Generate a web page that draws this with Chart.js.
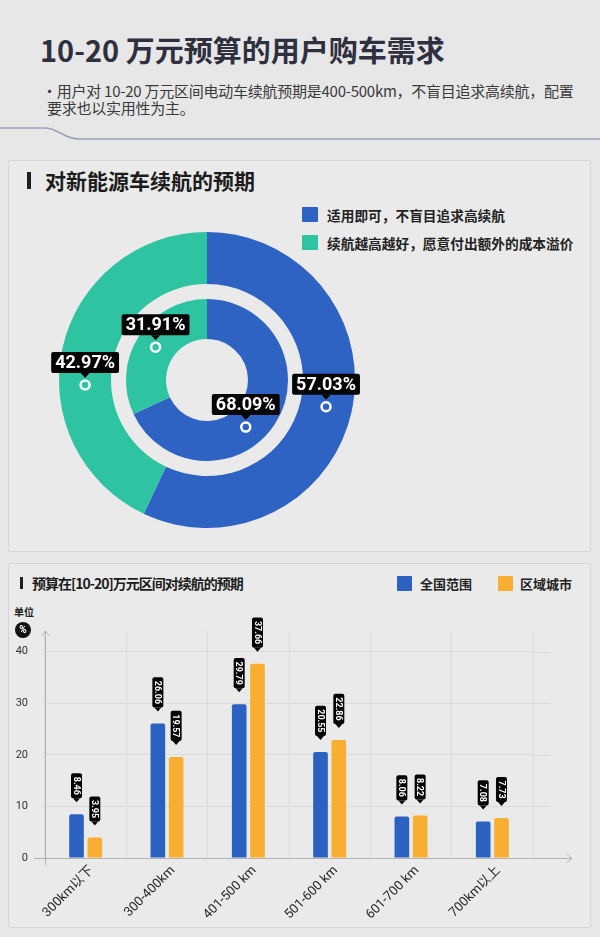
<!DOCTYPE html>
<html lang="zh">
<head>
<meta charset="utf-8">
<title>10-20 万元预算的用户购车需求</title>
<script src="https://cdn.jsdelivr.net/npm/chart.js@4.4.1/dist/chart.umd.min.js"></script>
<style>
  html, body { margin: 0; padding: 0; }
  body {
    width: 600px; height: 937px; position: relative; overflow: hidden;
    background: #e7e7e7;
    font-family: "Noto Sans CJK SC", "Noto Sans", sans-serif;
    color: #222;
  }
  .abs { position: absolute; white-space: nowrap; }
  .title { left: 40px; top: 29px; font-size: 29px; line-height: 40px; font-weight: 700; color: #2e3040; }
  .sub { left: 42px; top: 82px; font-size: 15px; line-height: 17px; color: #3a3a3a; letter-spacing: -0.25px; }
  .sub .l2 { padding-left: 5px; }
  .panel { position: absolute; left: 8px; width: 583px; box-sizing: border-box;
           border: 1px solid #d5d5d5; background: #eaeaea; border-radius: 2px; }
  .bar { position: absolute; background: #1e1e1e; }
  .ptitle { font-weight: 700; color: #1c1c1c; }
  .sq { position: absolute; border-radius: 1px; }
  .lg { font-weight: 700; color: #222; }
  canvas { position: absolute; }
</style>
</head>
<body>

<div class="abs title">10-20 万元预算的用户购车需求</div>
<div class="abs sub">·用户对 10-20 万元区间电动车续航预期是400-500km，不盲目追求高续航，配置<br><span class="l2">要求也以实用性为主。</span></div>
<svg class="abs" style="left:0;top:120px" width="600" height="30">
  <path d="M0 8 L44 8 C60 8 62 19 80 19 L600 19" fill="none" stroke="#9ea3b9" stroke-width="1.5"/>
</svg>

<!-- 面板 1 -->
<div class="panel" style="top:160px;height:392px"></div>
<div class="bar" style="left:27px;top:172px;width:3.5px;height:17px"></div>
<div class="abs ptitle" style="left:45px;top:166px;font-size:21px;line-height:28px">对新能源车续航的预期</div>
<div id="legend1"></div>
<canvas id="ringChart" width="400" height="400" style="left:7px;top:180px;width:400px;height:400px"></canvas>

<!-- 面板 2 -->
<div class="panel" style="top:563px;height:365px"></div>
<div class="bar" style="left:20px;top:577px;width:3px;height:12px"></div>
<div class="abs ptitle" style="left:32px;top:573px;font-size:14px;line-height:20px;letter-spacing:-1px">预算在[10-20]万元区间对续航的预期</div>
<div id="legend2"></div>
<div class="abs" style="left:14px;top:604px;font-size:10px;line-height:16px;font-weight:700;color:#222">单位</div>
<div class="abs" style="left:15px;top:622px;width:16px;height:16px;border-radius:8px;background:#111;color:#fff;font:700 10px/16px Roboto,sans-serif;text-align:center">%</div>
<canvas id="rangeChart" width="600" height="365" style="left:0;top:563px;width:600px;height:365px"></canvas>

<script>
// 续航预期（环形图）
var ringLabels = ['适用即可，不盲目追求高续航', '续航越高越好，愿意付出额外的成本溢价'];
var outerRing = [57.03, 42.97];
var innerRing = [68.09, 31.91];

// 预算在[10-20]万元区间对续航的预期（柱状图）
var rangeLabels = ['300km以下', '300-400km', '401-500 km', '501-600 km', '601-700 km', '700km以上'];
var seriesNames = ['全国范围', '区域城市'];
var nationwide = [8.46, 26.06, 29.79, 20.55, 8.06, 7.08];
var regional = [3.95, 19.57, 37.66, 22.86, 8.22, 7.73];
var yTicks = [0, 10, 20, 30, 40];

var RING_BLUE = '#2e63c3';
var RING_TEAL = '#2ec4a1';
var BAR_BLUE = '#2b62c1';
var BAR_ORANGE = '#f7ae31';

Chart.defaults.font.family = 'Roboto, "Noto Sans CJK SC", sans-serif';

// 图例（html）
function addLegend(box, names, colors, items) {
    var el = document.getElementById(box);
    names.forEach(function (n, i) {
        var it = items[i];
        el.insertAdjacentHTML('beforeend',
            '<div class="sq" style="left:' + it.x + 'px;top:' + it.y + 'px;width:' + it.w + 'px;height:' + it.h + 'px;background:' + colors[i] + '"></div>' +
            '<div class="abs lg" style="left:' + it.tx + 'px;top:' + (it.y + it.h / 2 - 10) + 'px;font-size:' + it.fs + 'px;line-height:20px">' + n + '</div>');
    });
}
addLegend('legend1', ringLabels, [RING_BLUE, RING_TEAL], [
    { x: 302, y: 207, w: 16, h: 15, tx: 327, fs: 13.7 },
    { x: 302, y: 235, w: 16, h: 15, tx: 327, fs: 13.7 }
]);
addLegend('legend2', seriesNames, [BAR_BLUE, BAR_ORANGE], [
    { x: 397, y: 576, w: 15, h: 15, tx: 420, fs: 13 },
    { x: 498, y: 576, w: 15, h: 15, tx: 520, fs: 13 }
]);

// 环形图上的黑色标签 + 白色圆圈
var ringTags = {
    id: 'ringTags',
    afterDatasetsDraw: function (chart, args, opts) {
        var ctx = chart.ctx;
        ctx.save();
        chart.data.datasets.forEach(function (ds, di) {
            if (ds.spacer) return;
            var meta = chart.getDatasetMeta(di);
            var shifts = opts.shift[di] || [];
            meta.data.forEach(function (arc, i) {
                var p = arc.getProps(['x', 'y', 'startAngle', 'endAngle', 'innerRadius', 'outerRadius'], true);
                var a = (p.startAngle + p.endAngle) / 2 + (shifts[i] || 0) * Math.PI / 180;
                var r = (p.innerRadius + p.outerRadius) / 2;
                var px = p.x + r * Math.cos(a);
                var py = p.y + r * Math.sin(a);
                // 圆圈
                ctx.beginPath();
                ctx.arc(px, py, 4.5, 0, Math.PI * 2);
                ctx.lineWidth = 2.5;
                ctx.strokeStyle = '#ffffff';
                ctx.stroke();
                // 标签
                var txt = ds.data[i].toFixed(2) + '%';
                ctx.font = 'bold 18px Roboto';
                var w = ctx.measureText(txt).width + 8;
                var h = 21;
                var yb = py - 12;
                ctx.fillStyle = '#050505';
                ctx.beginPath();
                ctx.roundRect(px - w / 2, yb - h, w, h, 2);
                ctx.fill();
                ctx.beginPath();
                ctx.moveTo(px - 4.5, yb);
                ctx.lineTo(px + 4.5, yb);
                ctx.lineTo(px, yb + 5);
                ctx.closePath();
                ctx.fill();
                ctx.fillStyle = '#ffffff';
                ctx.textAlign = 'center';
                ctx.textBaseline = 'middle';
                ctx.fillText(txt, px, yb - h / 2 + 1);
            });
        });
        ctx.restore();
    }
};

new Chart(document.getElementById('ringChart'), {
    type: 'doughnut',
    data: {
        labels: ringLabels,
        datasets: [
            { data: outerRing, backgroundColor: [RING_BLUE, RING_TEAL], borderWidth: 0, weight: 52 },
            { data: [1], backgroundColor: 'rgba(0,0,0,0)', borderWidth: 0, weight: 15, spacer: true },
            { data: innerRing, backgroundColor: [RING_BLUE, RING_TEAL], borderWidth: 0, weight: 40 }
        ]
    },
    options: {
        responsive: false,
        animation: false,
        events: [],
        layout: { padding: 52 },
        radius: '100%',
        cutout: 41,
        plugins: {
            legend: { display: false },
            tooltip: { enabled: false },
            ringTags: { shift: { 0: [0, -15], 2: [18, 0] } }
        }
    },
    plugins: [ringTags]
});

// 柱状图：坐标轴箭头、延长的网格线、竖排数值标签
var barDecor = {
    id: 'barDecor',
    afterDatasetsDraw: function (chart) {
        var ctx = chart.ctx;
        var area = chart.chartArea;
        var ys = chart.scales.y;
        ctx.save();
        // 网格线延长
        ctx.strokeStyle = '#dadada';
        ctx.lineWidth = 1;
        yTicks.forEach(function (t) {
            if (t === 0) return;
            var y = Math.round(ys.getPixelForValue(t)) + 0.5;
            ctx.beginPath();
            ctx.moveTo(area.right, y);
            ctx.lineTo(area.right + 18, y);
            ctx.stroke();
        });
        // 坐标轴延长 + 箭头
        ctx.strokeStyle = '#b3b3b3';
        var by = Math.round(area.bottom) + 0.5;
        var lx = Math.round(area.left) + 0.5;
        ctx.beginPath();
        ctx.moveTo(area.left - 11, by);
        ctx.lineTo(area.right + 39, by);
        ctx.moveTo(area.right + 34, by - 4);
        ctx.lineTo(area.right + 39, by);
        ctx.lineTo(area.right + 34, by + 4);
        ctx.moveTo(lx, area.bottom);
        ctx.lineTo(lx, area.bottom + 7);
        ctx.moveTo(lx - 4, area.top + 5);
        ctx.lineTo(lx, area.top);
        ctx.lineTo(lx + 4, area.top + 5);
        ctx.stroke();
        // 数值标签
        ctx.font = 'bold 9px Roboto';
        chart.data.datasets.forEach(function (ds, di) {
            chart.getDatasetMeta(di).data.forEach(function (bar, i) {
                var txt = ds.data[i].toFixed(2);
                var cx = bar.x;
                var yb = bar.y - 16;
                var h = ctx.measureText(txt).width + 7;
                ctx.fillStyle = '#050505';
                ctx.beginPath();
                ctx.roundRect(cx - 5.5, yb - h, 11, h, 2);
                ctx.fill();
                ctx.beginPath();
                ctx.moveTo(cx - 3.5, yb);
                ctx.lineTo(cx + 3.5, yb);
                ctx.lineTo(cx, yb + 4);
                ctx.closePath();
                ctx.fill();
                ctx.save();
                ctx.translate(cx, yb - h / 2);
                ctx.rotate(Math.PI / 2);
                ctx.fillStyle = '#ffffff';
                ctx.textAlign = 'center';
                ctx.textBaseline = 'middle';
                ctx.fillText(txt, 0, 0.5);
                ctx.restore();
            });
        });
        ctx.restore();
    }
};

new Chart(document.getElementById('rangeChart'), {
    type: 'bar',
    data: {
        labels: rangeLabels,
        datasets: [
            { label: seriesNames[0], data: nationwide, backgroundColor: BAR_BLUE, borderRadius: 2, borderSkipped: 'bottom', categoryPercentage: 0.45, barPercentage: 0.8 },
            { label: seriesNames[1], data: regional, backgroundColor: BAR_ORANGE, borderRadius: 2, borderSkipped: 'bottom', categoryPercentage: 0.45, barPercentage: 0.8 }
        ]
    },
    options: {
        responsive: false,
        animation: false,
        events: [],
        layout: { padding: { top: 68, right: 67, left: 0, bottom: 0 } },
        plugins: { legend: { display: false }, tooltip: { enabled: false } },
        scales: {
            x: {
                grid: { color: '#dadada', drawTicks: false, offset: true },
                border: { color: '#b3b3b3' },
                ticks: {
                    autoSkip: false, minRotation: 45, maxRotation: 45, padding: 5, labelOffset: 6,
                    color: '#262626', font: { size: 13 }
                },
                afterFit: function (s) { s.height = 70; }
            },
            y: {
                min: 0, max: 44,
                grid: { color: '#dadada', drawTicks: false },
                border: { color: '#b3b3b3' },
                ticks: {
                    stepSize: 10, includeBounds: false, padding: 17,
                    color: '#333333', font: { size: 11 }
                },
                afterFit: function (s) { s.width = 45; }
            }
        }
    },
    plugins: [barDecor]
});
</script>
</body>
</html>
